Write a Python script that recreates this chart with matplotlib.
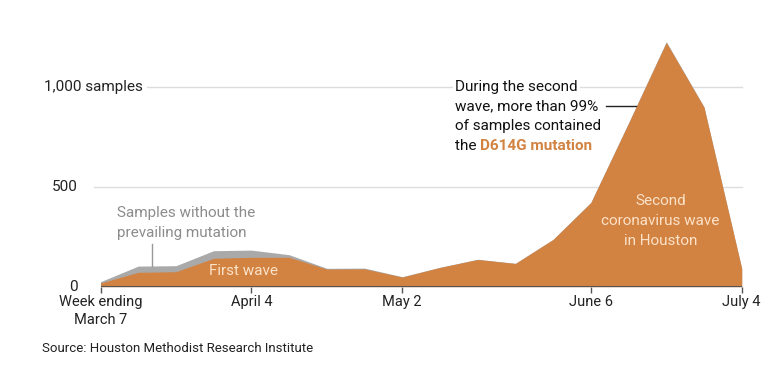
import matplotlib.pyplot as plt
import numpy as np

# weekly sample counts, week ending Mar 7 .. Jul 4
weeks = ['Mar 7', 'Mar 14', 'Mar 21', 'Mar 28', 'Apr 4', 'Apr 11', 'Apr 18', 'Apr 25',
         'May 2', 'May 9', 'May 16', 'May 23', 'May 30', 'Jun 6', 'Jun 13', 'Jun 20',
         'Jun 27', 'Jul 4']
d614g = [18, 72, 75, 142, 147, 147, 88, 89, 48, 96, 136, 116, 236, 420, 817, 1221, 897, 91]
other = [7, 31, 30, 38, 36, 13, 4, 4, 2, 1, 1, 1, 1, 2, 3, 4, 3, 1]
tick_weeks = [0, 4, 8, 13, 17]
tick_labels = ['Week ending\nMarch 7', 'April 4', 'May 2', 'June 6', 'July 4']

ORANGE = '#d28241'
GRAY = '#a9a9a9'
CREAM = '#fbe2c8'
FS = 11

plt.rcParams['font.family'] = ['Roboto', 'DejaVu Sans']

fig = plt.figure(figsize=(7.76, 3.71), dpi=100)
ax = fig.add_axes([100.5 / 776, (371 - 286.7) / 371, 641.2 / 776, 250 / 371])

x = np.arange(len(weeks))
d614g = np.array(d614g)
total = d614g + np.array(other)

ax.fill_between(x, 0, total, color=GRAY, lw=0, zorder=2)
ax.fill_between(x, 0, d614g, color=ORANGE, lw=0, zorder=3)

ax.set_xlim(0, 17)
ax.set_ylim(0, 1250)

for s in ax.spines.values():
    s.set_visible(False)
ax.set_yticks([])
ax.set_xticks(tick_weeks)
ax.set_xticklabels(tick_labels, fontsize=FS - 0.5, color='#222222', linespacing=1.4)
ax.tick_params(axis='x', length=4, width=1, color='#555555', pad=2)

# gridlines and baseline
ax.axhline(500, xmin=-0.01, xmax=1, color='#dddddd', lw=1, zorder=1, clip_on=False)
ax.axhline(1000, xmin=(147 - 100.5) / 641.2, xmax=1, color='#dddddd', lw=1, zorder=1, clip_on=False)
ax.axhline(0, color='#555555', lw=1.5, zorder=4)

ax.text(-0.6, 500, '500', ha='right', va='center', fontsize=FS, color='#222222')
ax.text(-0.6, 0, '0', ha='right', va='center', fontsize=FS, color='#222222')
ax.text(1.12, 1000, '1,000 samples', ha='right', va='center', fontsize=FS, color='#222222')

# first wave labels
ax.text(3.78, 77, 'First wave', ha='center', va='center', fontsize=FS, color=CREAM, zorder=5)
ax.text(0.43, 368, 'Samples without the', ha='left', va='center', fontsize=FS, color='#8c8c8c')
ax.text(0.43, 268, 'prevailing mutation', ha='left', va='center', fontsize=FS, color='#8c8c8c')
ax.plot([1.37, 1.37], [106, 216], color='#999999', lw=1)

# second wave label
for yy, s in zip([430, 330, 230], ['Second', 'coronavirus wave', 'in Houston']):
    ax.text(14.85, yy, s, ha='center', va='center', fontsize=FS, color=CREAM, zorder=5)

# annotation
for yy, s in zip([1000, 903, 803], ['During the second', 'wave, more than 99%',
                                    'of samples contained']):
    ax.text(9.4, yy, s, ha='left', va='center', fontsize=FS, color='#111111',
            bbox=dict(facecolor='white', edgecolor='none', pad=1.5), zorder=5)
ax.plot([13.4, 14.2], [903, 903], color='#222222', lw=1, zorder=5)
fig.canvas.draw()
t1 = ax.text(9.4, 703, 'the ', ha='left', va='center', fontsize=FS, color='#111111')
bb = t1.get_window_extent(renderer=fig.canvas.get_renderer())
x1 = ax.transData.inverted().transform((bb.x1, bb.y0))[0]
ax.text(x1, 703, 'D614G mutation', ha='left', va='center', fontsize=FS,
        color=ORANGE, fontweight='bold')

fig.text(42 / 776, 1 - 349 / 371, 'Source: Houston Methodist Research Institute',
         ha='left', va='center', fontsize=9.5, color='#222222')

fig.savefig('out.png', dpi=100)
